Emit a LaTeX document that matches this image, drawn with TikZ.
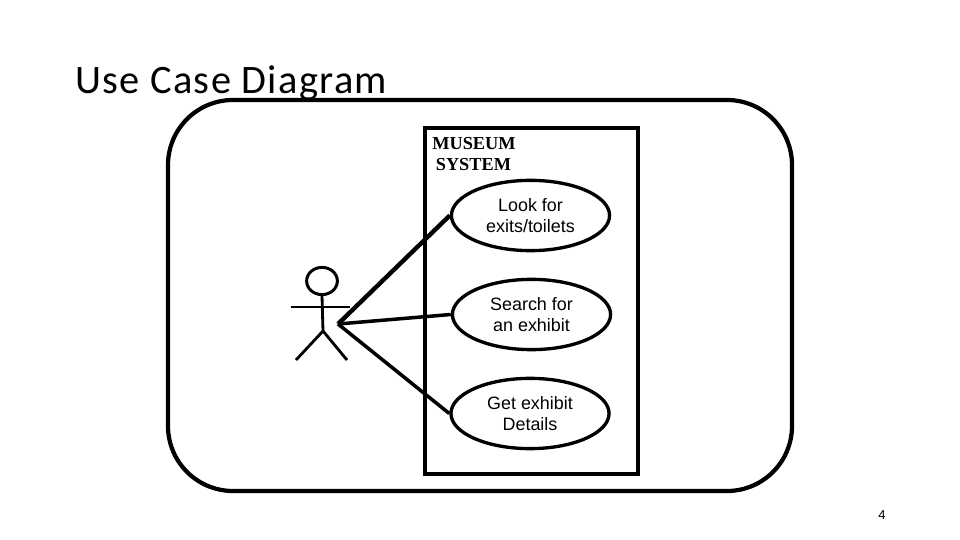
\documentclass[tikz,border=0pt]{standalone}
\usepackage{fontspec}
\setmainfont{Liberation Sans}
\newfontfamily\titlefont[LetterSpace=3.3]{Carlito}
\newfontfamily\boxfont{Liberation Serif}
\usetikzlibrary{positioning, calc, shapes.geometric}

\tikzset{
	usecase/.style={draw, ellipse, line width=1.9pt, minimum width=90pt, minimum height=40pt, inner sep=0pt, align=center, font=\fontsize{10.2}{12.4}\selectfont},
	assoc/.style={line width=2pt},
	stick/.style={line width=1.6pt},
}

\begin{document}
\begin{tikzpicture}[x=0.02cm, y=-0.02cm]
	\useasboundingbox (0,0) rectangle (960,540);

	% --- Titolo ---
	\node[anchor=base west, inner sep=0pt, font=\titlefont\fontsize{23}{27}\selectfont] (title) at (75,94) {Use Case Diagram};
	\node[inner sep=0pt, font=\fontsize{7.4}{9}\selectfont] (page) at (882,515) {4};

	% --- Cornice e sistema ---
	\draw[line width=2.4pt, rounded corners=37pt] (168,100) rectangle (792,491);
	\draw[line width=2pt] (425,128) rectangle (638,474);
	\node[anchor=north west, inner sep=0pt, align=left, font=\boxfont\bfseries\fontsize{10.4}{12}\selectfont] (system) at (432,137) {MUSEUM\\[0pt]\hspace*{2pt}SYSTEM};

	% --- Casi d'uso ---
	\node[usecase] (look) at (530.5,215.5) {Look for\\exits/toilets};
	\node[usecase] (search) at (531.5,314.5) {Search for\\an exhibit};
	\node[usecase] (details) at (530,413.5) {Get exhibit\\Details};

	% --- Attore ---
	\node[draw, ellipse, line width=1.7pt, minimum width=17.5pt, minimum height=15.5pt, inner sep=0pt] (head) at (322,281) {};
	\coordinate (hip) at (323,331);
	\coordinate (armL) at (291,307);
	\coordinate (armR) at (350,307);
	\coordinate (footL) at (296,360);
	\coordinate (footR) at (347,360);
	\coordinate (hand) at (338,324);
	\draw[stick] (head.south) -- (hip);
	\draw[stick] (armL) -- (armR);
	\draw[stick] (footL) -- (hip) -- (footR);

	% --- Associazioni ---
	\draw[assoc, line width=2.5pt] (hand) -- (look.west);
	\draw[assoc] (hand) -- (search.west);
	\draw[assoc] (hand) -- (details.west);
\end{tikzpicture}
\end{document}
